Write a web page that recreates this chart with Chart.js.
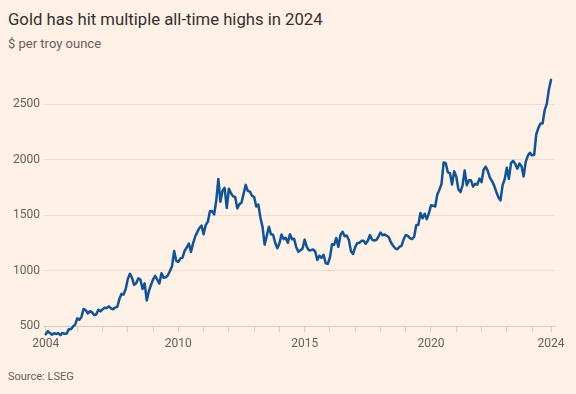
<!DOCTYPE html>
<html>
<head>
<meta charset="utf-8">
<script src="https://cdn.jsdelivr.net/npm/chart.js@4"></script>
<style>
  html, body { margin: 0; padding: 0; }
  body { width: 576px; height: 394px; background: #FFF1E5; position: relative; overflow: hidden; font-family: Roboto, "Noto Sans", sans-serif; }
  #title { position: absolute; left: 8px; top: 11px; font-size: 16.7px; line-height: 17px; color: #33302E; white-space: nowrap; }
  #subtitle { position: absolute; left: 8px; top: 37px; font-size: 13px; line-height: 13px; color: #66605C; white-space: nowrap; }
  #source { position: absolute; left: 8px; top: 371px; font-size: 11px; line-height: 11px; color: #66605C; white-space: nowrap; }
  #c { position: absolute; left: 0; top: 0; }
</style>
</head>
<body>
<div id="title">Gold has hit multiple all-time highs in 2024</div>
<div id="subtitle">$ per troy ounce</div>
<div id="source">Source: LSEG</div>
<canvas id="c" width="576" height="394"></canvas>
<script>
// Month-end gold price, $ per troy ounce, Oct 2004 - Oct 2024
const startYear = 2004;
const startMonth = 10;
const prices = [
  426, 453, 436,
  422, 435, 428, 436, 417, 437, 429, 433, 473, 471, 496, 513,
  569, 556, 582, 654, 643, 614, 633, 624, 599, 604, 647, 632,
  651, 664, 662, 677, 659, 651, 666, 672, 743, 790, 784, 834,
  923, 972, 934, 871, 886, 930, 918, 833, 885, 731, 815, 870,
  920, 952, 917, 883, 976, 935, 939, 956, 996, 1040, 1176, 1088,
  1079, 1110, 1116, 1179, 1208, 1244, 1169, 1246, 1307, 1347, 1384, 1406,
  1327, 1411, 1439, 1536, 1537, 1506, 1629, 1826, 1620, 1722, 1746, 1564,
  1738, 1697, 1669, 1664, 1561, 1598, 1614, 1692, 1773, 1719, 1712, 1675,
  1663, 1578, 1596, 1476, 1392, 1234, 1313, 1396, 1327, 1323, 1251, 1202,
  1244, 1326, 1284, 1296, 1250, 1327, 1282, 1287, 1210, 1171, 1183, 1199,
  1279, 1213, 1183, 1184, 1190, 1172, 1095, 1134, 1114, 1142, 1065, 1061,
  1118, 1238, 1233, 1293, 1214, 1321, 1350, 1309, 1315, 1275, 1173, 1151,
  1211, 1249, 1249, 1268, 1269, 1242, 1269, 1321, 1280, 1271, 1275, 1303,
  1343, 1318, 1325, 1315, 1299, 1253, 1224, 1201, 1192, 1214, 1222, 1282,
  1321, 1313, 1292, 1284, 1305, 1409, 1413, 1520, 1472, 1513, 1464, 1517,
  1589, 1585, 1577, 1686, 1730, 1781, 1975, 1968, 1886, 1879, 1776, 1895,
  1848, 1734, 1708, 1769, 1903, 1770, 1814, 1814, 1757, 1783, 1775, 1829,
  1797, 1909, 1937, 1897, 1837, 1807, 1766, 1711, 1661, 1633, 1768, 1824,
  1928, 1827, 1969, 1990, 1962, 1919, 1965, 1940, 1849, 1983, 2036, 2063,
  2039, 2044, 2230, 2286, 2327, 2326, 2447, 2503, 2634, 2720
];
// x-axis tick positions (decimal years) and their labels
const xTickValues = [2004.75, 2006, 2007, 2008, 2009, 2010, 2011, 2012, 2013, 2014, 2015,
                     2016, 2017, 2018, 2019, 2020, 2021, 2022, 2023, 2024, 2024.75];
const xTickLabels = ['2004', '', '', '', '', '2010', '', '', '', '', '2015',
                     '', '', '', '', '2020', '', '', '', '', '2024'];
const yTickValues = [500, 1000, 1500, 2000, 2500];
const yTickLabels = ['500', '1000', '1500', '2000', '2500'];

const points = prices.map((p, i) => ({ x: startYear + (startMonth - 1 + i) / 12, y: p }));

const GRID = '#EADDD2';
const AXIS = '#D8CBC0';
const TXT = '#66605C';

new Chart(document.getElementById('c'), {
  type: 'line',
  data: {
    datasets: [{
      data: points,
      borderColor: '#0F5499',
      borderWidth: 2.5,
      pointRadius: 0,
      tension: 0,
      borderJoinStyle: 'round',
      borderCapStyle: 'round',
      clip: false
    }]
  },
  options: {
    responsive: false,
    devicePixelRatio: 1,
    animation: false,
    events: [],
    layout: { padding: { left: 0, right: 21, top: 71, bottom: 38 } },
    plugins: { legend: { display: false }, tooltip: { enabled: false }, title: { display: false } },
    scales: {
      x: {
        type: 'linear',
        min: 2004.683,
        max: 2024.908,
        afterBuildTicks: s => { s.ticks = xTickValues.map(v => ({ value: v })); },
        afterFit: s => { s.height = 30; },
        border: { display: true, color: AXIS, width: 1 },
        grid: { drawOnChartArea: false, drawTicks: true, tickLength: 6, color: AXIS },
        ticks: {
          autoSkip: false, maxRotation: 0, padding: 5,
          color: TXT, font: { family: 'Roboto', size: 12 },
          callback: (v, i) => xTickLabels[i]
        }
      },
      y: {
        min: 500,
        max: 2800,
        afterBuildTicks: s => { s.ticks = yTickValues.map(v => ({ value: v })); },
        afterFit: s => { s.width = 44; },
        border: { display: false },
        grid: { drawTicks: false, color: GRID },
        ticks: {
          padding: 4, color: TXT, font: { family: 'Roboto', size: 12 },
          callback: (v, i) => yTickLabels[i]
        }
      }
    }
  }
});
</script>
</body>
</html>
